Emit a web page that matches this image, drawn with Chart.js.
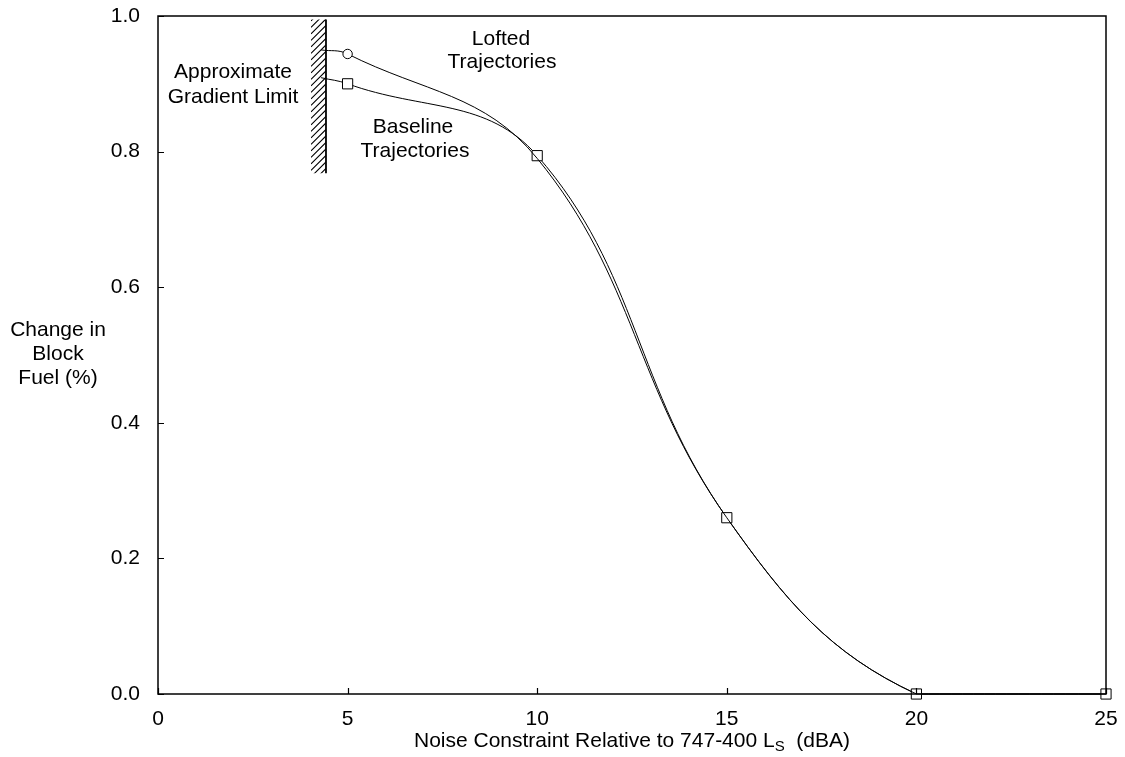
<!DOCTYPE html>
<html>
<head>
<meta charset="utf-8">
<script src="https://cdn.jsdelivr.net/npm/chart.js@4.4.1/dist/chart.umd.min.js"></script>
<style>
  html, body { margin: 0; padding: 0; background: #fff; }
  #wrap { width: 1125px; height: 757px; }
</style>
</head>
<body>
<div id="wrap"><canvas id="myChart"></canvas></div>
<script>
// Data
const noiseX = [4.3, 5, 10, 15, 20, 25];
const baselineFuel = [0.909, 0.900, 0.794, 0.26, 0.0, 0.0];
const loftedFuel = [0.950, 0.944, 0.790, 0.26, 0.0, 0.0];
const xTicks = [0, 5, 10, 15, 20, 25];
const yTicks = [0.0, 0.2, 0.4, 0.6, 0.8, 1.0];

// gradient limit wall (x value, y from, y to)
const wallX = 4.43;
const wallY = [0.768, 0.995];

const FONT = '"Liberation Sans", Arial, sans-serif';

function toPoints(xs, ys) {
  return xs.map(function (x, i) { return { x: x, y: ys[i] }; });
}

// Frame, inward ticks, wall, labels
const extras = {
  id: 'extras',
  afterDraw: function (chart) {
    const ctx = chart.ctx;
    const a = chart.chartArea;
    const xs = chart.scales.x, ys = chart.scales.y;
    ctx.save();
    ctx.strokeStyle = '#000';
    ctx.lineWidth = 1.5;
    ctx.strokeRect(a.left, a.top, a.right - a.left, a.bottom - a.top);

    // inward ticks
    ctx.lineWidth = 1.2;
    ctx.beginPath();
    xTicks.forEach(function (v) {
      const px = Math.round(xs.getPixelForValue(v)) + 0.5;
      ctx.moveTo(px, a.bottom);
      ctx.lineTo(px, a.bottom - 6);
    });
    yTicks.forEach(function (v) {
      const py = Math.round(ys.getPixelForValue(v)) + 0.5;
      ctx.moveTo(a.left, py);
      ctx.lineTo(a.left + 6, py);
    });
    ctx.stroke();

    // hatched wall
    const wx = xs.getPixelForValue(wallX);
    const wTop = ys.getPixelForValue(wallY[1]);
    const wBot = ys.getPixelForValue(wallY[0]);
    ctx.lineWidth = 1.8;
    ctx.beginPath();
    ctx.moveTo(wx, wTop);
    ctx.lineTo(wx, wBot);
    ctx.stroke();
    ctx.save();
    ctx.beginPath();
    ctx.rect(wx - 15, wTop, 15, wBot - wTop);
    ctx.clip();
    ctx.lineWidth = 1.1;
    ctx.beginPath();
    for (let y = wTop - 20; y < wBot + 20; y += 6.5) {
      ctx.moveTo(wx - 15, y + 15);
      ctx.lineTo(wx, y);
    }
    ctx.stroke();
    ctx.restore();

    // text
    ctx.fillStyle = '#000';
    ctx.font = '21px ' + FONT;
    ctx.textAlign = 'center';
    ctx.textBaseline = 'middle';
    ctx.fillText('Approximate', 233, 72);
    ctx.fillText('Gradient Limit', 233, 97);
    ctx.fillText('Lofted', 501, 39);
    ctx.fillText('Trajectories', 502, 62);
    ctx.fillText('Baseline', 413, 127);
    ctx.fillText('Trajectories', 415, 151);

    // y title
    ctx.fillText('Change in', 58, 330);
    ctx.fillText('Block', 58, 354);
    ctx.fillText('Fuel (%)', 58, 378);

    // x title with subscript
    const main = 'Noise Constraint Relative to 747-400 L';
    const sub = 'S';
    const tail = '  (dBA)';
    ctx.font = '21px ' + FONT;
    const w1 = ctx.measureText(main).width;
    const w3 = ctx.measureText(tail).width;
    ctx.font = '15px ' + FONT;
    const w2 = ctx.measureText(sub).width;
    const cx = (a.left + a.right) / 2;
    let sx = cx - (w1 + w2 + w3) / 2;
    ctx.textAlign = 'left';
    ctx.font = '21px ' + FONT;
    ctx.fillText(main, sx, 741);
    ctx.font = '15px ' + FONT;
    ctx.fillText(sub, sx + w1, 747);
    ctx.font = '21px ' + FONT;
    ctx.fillText(tail, sx + w1 + w2, 741);
    ctx.restore();
  }
};

const data = {
  datasets: [
    {
      label: 'Lofted Trajectories',
      data: toPoints(noiseX, loftedFuel),
      borderColor: '#000',
      borderWidth: 1,
      pointStyle: 'circle',
      pointRadius: noiseX.map(function (x, i) { return i === 1 ? 4.7 : 0; }),
      pointBackgroundColor: '#fff',
      pointBorderColor: '#000',
      pointBorderWidth: 1,
      tension: 0.4,
      clip: false
    },
    {
      label: 'Baseline Trajectories',
      data: toPoints(noiseX, baselineFuel),
      borderColor: '#000',
      borderWidth: 1,
      pointStyle: 'rect',
      pointRadius: noiseX.map(function (x, i) { return i === 0 ? 0 : 7.2; }),
      pointBackgroundColor: '#fff',
      pointBorderColor: '#000',
      pointBorderWidth: 1,
      tension: 0.4,
      clip: false
    }
  ]
};

const config = {
  type: 'line',
  data: data,
  options: {
    responsive: true,
    maintainAspectRatio: false,
    animation: false,
    layout: { padding: { left: 0, right: 19, top: 16, bottom: 0 } },
    plugins: {
      legend: { display: false },
      tooltip: { enabled: false }
    },
    scales: {
      x: {
        type: 'linear',
        min: 0, max: 25,
        afterFit: function (s) { s.height = 63; s.paddingLeft = 0; s.paddingRight = 0; },
        afterBuildTicks: function (s) { s.ticks = xTicks.map(function (v) { return { value: v }; }); },
        grid: { display: false },
        border: { display: false },
        ticks: { color: '#000', padding: 5, font: { size: 21, family: FONT } }
      },
      y: {
        min: 0, max: 1,
        afterFit: function (s) { s.width = 158; s.paddingTop = 0; s.paddingBottom = 0; },
        afterBuildTicks: function (s) { s.ticks = yTicks.map(function (v) { return { value: v }; }); },
        grid: { display: false },
        border: { display: false },
        ticks: {
          color: '#000', padding: 10, font: { size: 21, family: FONT },
          callback: function (v) { return Number(v).toFixed(1); }
        }
      }
    }
  },
  plugins: [extras]
};

// Render chart in <canvas>
const myChart = new Chart(document.getElementById('myChart'), config);
</script>
</body>
</html>
